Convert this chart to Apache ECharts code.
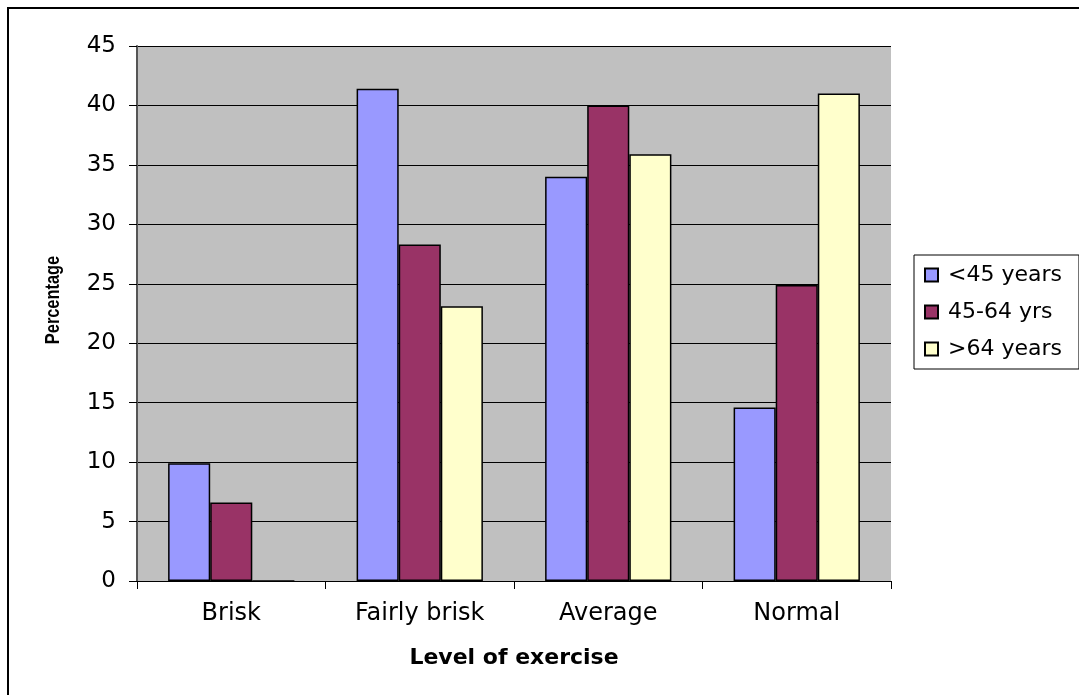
<!DOCTYPE html>
<html><head><meta charset="utf-8">
<script src="https://cdn.jsdelivr.net/npm/echarts@6/dist/echarts.min.js"></script>
<style>html,body{margin:0;padding:0;background:#fff}#c{width:1079px;height:695px}</style>
</head><body><div id="c"></div>
<script>
const categories = ['Brisk', 'Fairly brisk', 'Average', 'Normal'];
const under45 = [9.9, 41.4, 34.0, 14.6];
const age45to64 = [6.6, 28.3, 40.0, 24.9];
const over64 = [0, 23.1, 35.9, 41.0];
const seriesNames = ['<45 years', '45-64 yrs', '>64 years'];
const yTicks = {min: 0, max: 45, interval: 5};

const font = 'DejaVu Sans, sans-serif';
const chart = echarts.init(document.getElementById('c'));
const colors = ['#9999FF', '#993366', '#FFFFCC'];
const data = [under45, age45to64, over64];
chart.setOption({
  animation: false,
  textStyle: {fontFamily: font},
  graphic: [
    {type: 'rect', shape: {x: 8, y: 8, width: 1200, height: 800}, style: {fill: 'none', stroke: '#000', lineWidth: 2}},
    {type: 'text', x: 53, y: 300, rotation: Math.PI / 2, scaleX: 0.78, scaleY: 1,
     style: {text: 'Percentage', font: 'bold 21px "Liberation Sans", Arial, sans-serif', fill: '#000', align: 'center', verticalAlign: 'middle'}}
  ],
  grid: {left: 137, top: 46, width: 754, height: 535, show: true, backgroundColor: '#C0C0C0', borderWidth: 0},
  legend: {
    orient: 'vertical', left: 914, top: 255,
    padding: [9, 17, 9, 10], itemGap: 15,
    borderColor: '#000', borderWidth: 1, backgroundColor: '#fff',
    icon: 'rect', itemWidth: 13, itemHeight: 13,
    textStyle: {fontSize: 22, color: '#000', lineHeight: 22, fontFamily: font, padding: [0, 0, 0, 5]},
    data: seriesNames
  },
  xAxis: {
    type: 'category', data: categories,
    axisLine: {lineStyle: {color: '#000', width: 1}},
    axisTick: {show: true, length: 8, lineStyle: {color: '#000'}},
    axisLabel: {fontSize: 24, color: '#000', margin: 21, fontFamily: font},
    name: 'Level of exercise', nameLocation: 'middle', nameGap: 66,
    nameTextStyle: {fontSize: 22, fontWeight: 'bold', color: '#000', fontFamily: font}
  },
  yAxis: {
    type: 'value', min: yTicks.min, max: yTicks.max, interval: yTicks.interval,
    axisLine: {show: true, lineStyle: {color: '#555', width: 2}},
    axisTick: {show: true, length: 8, lineStyle: {color: '#000'}},
    axisLabel: {fontSize: 23, color: '#000', margin: 21, fontFamily: font},
    splitLine: {lineStyle: {color: '#000', width: 1}}
  },
  series: seriesNames.map((n, i) => ({
    name: n, type: 'bar', data: data[i],
    barGap: '0%', barCategoryGap: '33%',
    itemStyle: {color: colors[i], borderColor: '#000', borderWidth: 1.5}
  }))
});
</script></body></html>
